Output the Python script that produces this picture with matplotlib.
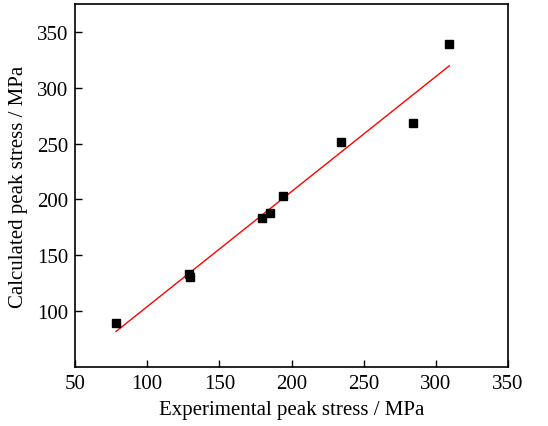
import matplotlib
matplotlib.use("Agg")
import matplotlib.pyplot as plt
import numpy as np

# data
exp_stress = [78.4, 129.0, 130.0, 179.9, 185.0, 194.4, 234.0, 283.9, 308.8]
calc_stress = [89.5, 133.5, 130.5, 183.6, 187.5, 202.7, 251.4, 268.5, 339.5]

# fitted line (slope, intercept) and its x extent
fit_slope = 1.03
fit_intercept = 1.05
fit_x = [78.4, 309.3]

plt.rcParams["font.family"] = ["Liberation Serif", "DejaVu Serif"]

fig = plt.figure(figsize=(5.48, 4.27), dpi=100)
ax = fig.add_axes([75 / 548, 1 - 368 / 427, 433 / 548, 363 / 427])

ax.plot(exp_stress, calc_stress, "s", color="black", markersize=6, zorder=3)
fx = np.array(fit_x)
ax.plot(fx, fit_slope * fx + fit_intercept, color="red", linewidth=1.0)

ax.set_xlim(50, 350)
ax.set_ylim(50, 375)
ax.set_xticks([50, 100, 150, 200, 250, 300, 350])
ax.set_yticks([100, 150, 200, 250, 300, 350])

ax.tick_params(direction="in", length=5, width=1, labelsize=15, pad=5)
for s in ax.spines.values():
    s.set_linewidth(1.2)

ax.set_xlabel("Experimental peak stress / MPa", fontsize=15, labelpad=5)
ax.set_ylabel("Calculated peak stress / MPa", fontsize=15, labelpad=6)

fig.savefig("out.png", dpi=100)
